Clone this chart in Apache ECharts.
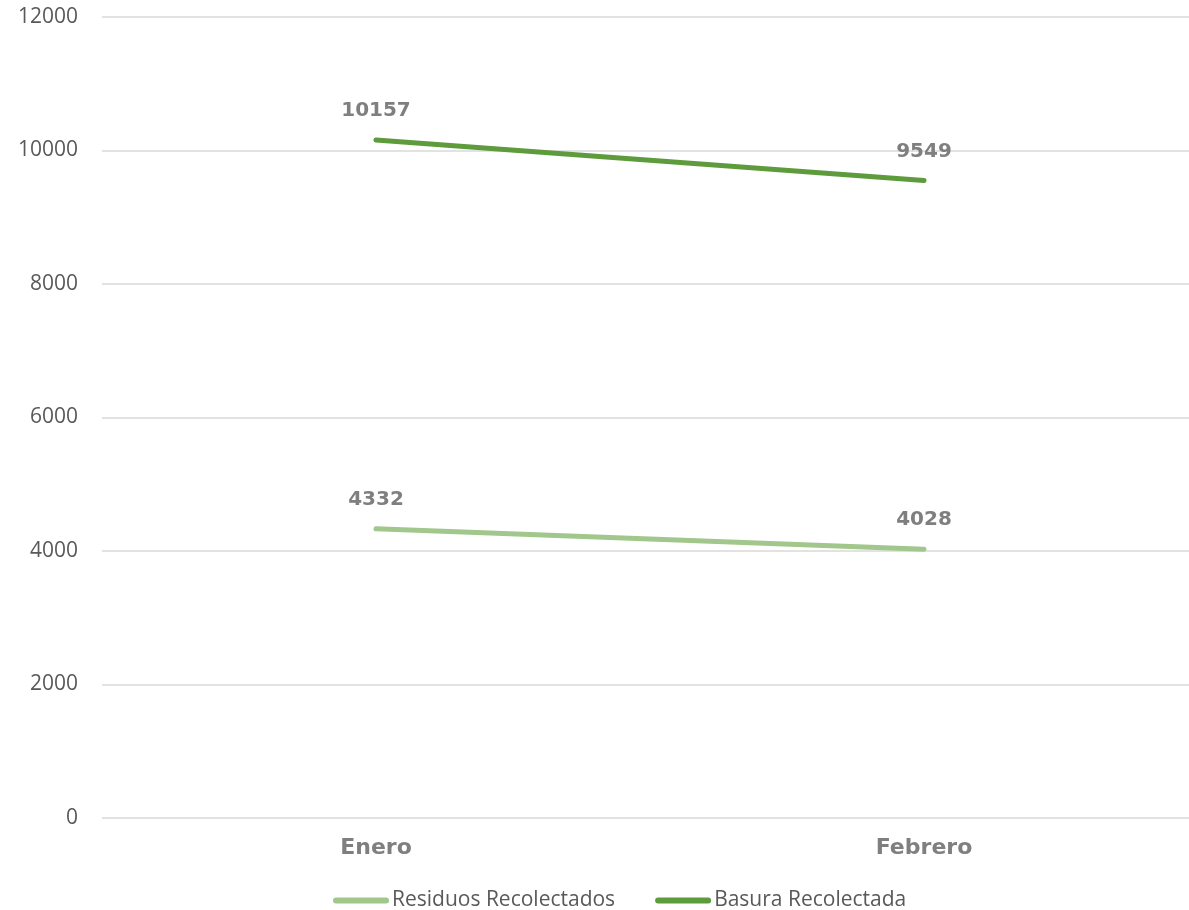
<!DOCTYPE html>
<html>
<head>
<meta charset="utf-8">
<script src="https://cdn.jsdelivr.net/npm/echarts@6/dist/echarts.min.js"></script>
<style>html,body{margin:0;padding:0;background:#fff}#c{width:1189px;height:910px}</style>
</head>
<body>
<div id="c"></div>
<script>
var categories = ['Enero', 'Febrero'];
var residuos = [4332, 4028];
var basura = [10157, 9549];
var seriesNames = ['Residuos Recolectados', 'Basura Recolectada'];

var chart = echarts.init(document.getElementById('c'), null, {renderer: 'canvas'});
var labelStyle = {
  show: true, position: 'top', distance: 19,
  color: '#7f7f7f', fontFamily: 'DejaVu Sans', fontWeight: 'bold', fontSize: 20
};
chart.setOption({
  animation: false,
  grid: {left: 102, top: 17, bottom: 92, right: -9, containLabel: false, outerBoundsMode: 'none'},
  legend: {
    bottom: -1, left: 333, padding: 0,
    itemWidth: 56, itemHeight: 6, itemGap: 40,
    icon: 'path://M3,0 L53,0 A3,3 0 0 1 53,6 L3,6 A3,3 0 0 1 3,0 Z',
    textStyle: {color: '#595959', fontFamily: 'Open Sans', fontSize: 21, padding: [0,0,0,-2]},
    data: seriesNames
  },
  xAxis: {
    type: 'category', data: categories, boundaryGap: true,
    axisLine: {show: false}, axisTick: {show: false},
    axisLabel: {color: '#7f7f7f', fontFamily: 'DejaVu Sans', fontWeight: 'bold', fontSize: 22, margin: 19}
  },
  yAxis: {
    type: 'value', min: 0, max: 12000, interval: 2000,
    axisLine: {show: false}, axisTick: {show: false},
    splitLine: {lineStyle: {color: '#d9d9d9', width: 1.5}},
    axisLabel: {color: '#595959', fontFamily: 'Open Sans', fontSize: 21, margin: 24,
      formatter: function (v) { return String(v); }}
  },
  series: [
    {name: seriesNames[0], type: 'line', data: residuos, symbol: 'circle', symbolSize: 0.1, showSymbol: true,
     lineStyle: {color: '#a1c78c', width: 5, cap: 'round'}, itemStyle: {color: '#a1c78c'},
     label: labelStyle},
    {name: seriesNames[1], type: 'line', data: basura, symbol: 'circle', symbolSize: 0.1, showSymbol: true,
     lineStyle: {color: '#5e9b3c', width: 5, cap: 'round'}, itemStyle: {color: '#5e9b3c'},
     label: labelStyle}
  ]
});
</script>
</body>
</html>
